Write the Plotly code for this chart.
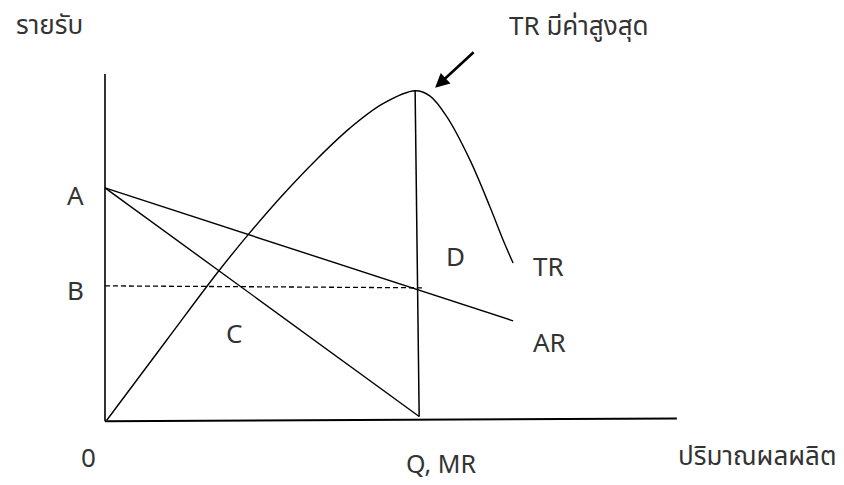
import plotly.graph_objects as go

# ---- data (conceptual units: quantity on x, revenue on y) ----
tr_q = [0.05, 1.98, 3.62, 4.65, 5.71, 6.79, 7.85, 8.91, 9.94, 10.42, 10.96, 11.70, 12.34, 12.76, 13.08]
tr_r = [0.0, 2.44, 4.50, 5.70, 6.85, 7.92, 8.86, 9.60, 9.99, 9.83, 9.20, 7.89, 6.47, 5.47, 4.77]
ar_q = [0.0, 13.08]
ar_r = [7.05, 3.02]
mr_q = [0.0, 10.07]
mr_r = [7.05, 0.12]
qline_q = [9.94, 10.07]
qline_r = [9.99, 0.12]
b_q = [0.0, 10.26]
b_r = [4.08, 4.02]
xaxis_q = [0.0, 18.33]
xaxis_r = [-0.02, 0.06]
yaxis_q = [0.0, 0.0]
yaxis_r = [10.5, -0.02]

labels = ["รายรับ", "TR มีค่าสูงสุด", "A", "B", "C", "D", "TR", "AR", "0", "Q, MR", "ปริมาณผลผลิต"]
label_q = [-1.79, 15.19, -0.93, -0.93, 4.13, 11.22, 14.23, 14.26, -0.54, 10.77, 20.90]
label_r = [11.95, 11.92, 6.77, 3.90, 2.59, 4.92, 4.62, 2.32, -1.17, -1.36, -1.11]
label_size = [26, 26, 26, 26, 26, 26, 26, 26, 26, 25, 26]

FONT = "Noto Sans Thai, Noto Sans, Leelawadee UI, sans-serif"
INK = "#000000"
TXT = "#333333"

fig = go.Figure()

def add_line(x, y, width=1.3, dash="solid", shape="linear"):
    fig.add_trace(go.Scatter(x=x, y=y, mode="lines",
                             line=dict(color=INK, width=width, dash=dash, shape=shape, smoothing=1.0),
                             hoverinfo="skip", showlegend=False))

add_line(yaxis_q, yaxis_r, width=1.6)
add_line(xaxis_q, xaxis_r, width=2.0)
add_line(tr_q, tr_r, width=1.4, shape="spline")
add_line(ar_q, ar_r, width=1.4)
add_line(mr_q, mr_r, width=1.4)
add_line(qline_q, qline_r, width=1.5)
add_line(b_q, b_r, width=1.3, dash="5px,3px")

for t, x, y, s in zip(labels, label_q, label_r, label_size):
    fig.add_annotation(x=x, y=y, text=t, showarrow=False,
                       font=dict(family=FONT, size=s, color=TXT),
                       xanchor="center", yanchor="middle")

# arrow pointing at TR maximum
fig.add_annotation(x=10.58, y=10.08, ax=40, ay=-37, axref="pixel", ayref="pixel",
                   text="", showarrow=True, arrowhead=2, arrowsize=1.1,
                   arrowwidth=2.6, arrowcolor=INK)

fig.update_layout(
    width=844, height=485,
    margin=dict(l=0, r=0, t=0, b=0),
    paper_bgcolor="white", plot_bgcolor="white",
    xaxis=dict(range=[-3.365, 23.686], visible=False, fixedrange=True),
    yaxis=dict(range=[-1.955, 12.742], visible=False, fixedrange=True),
    showlegend=False,
)

fig.write_html("out.html", config={"displayModeBar": False},
               post_script="document.body.style.margin='0';document.body.style.padding='0';")
